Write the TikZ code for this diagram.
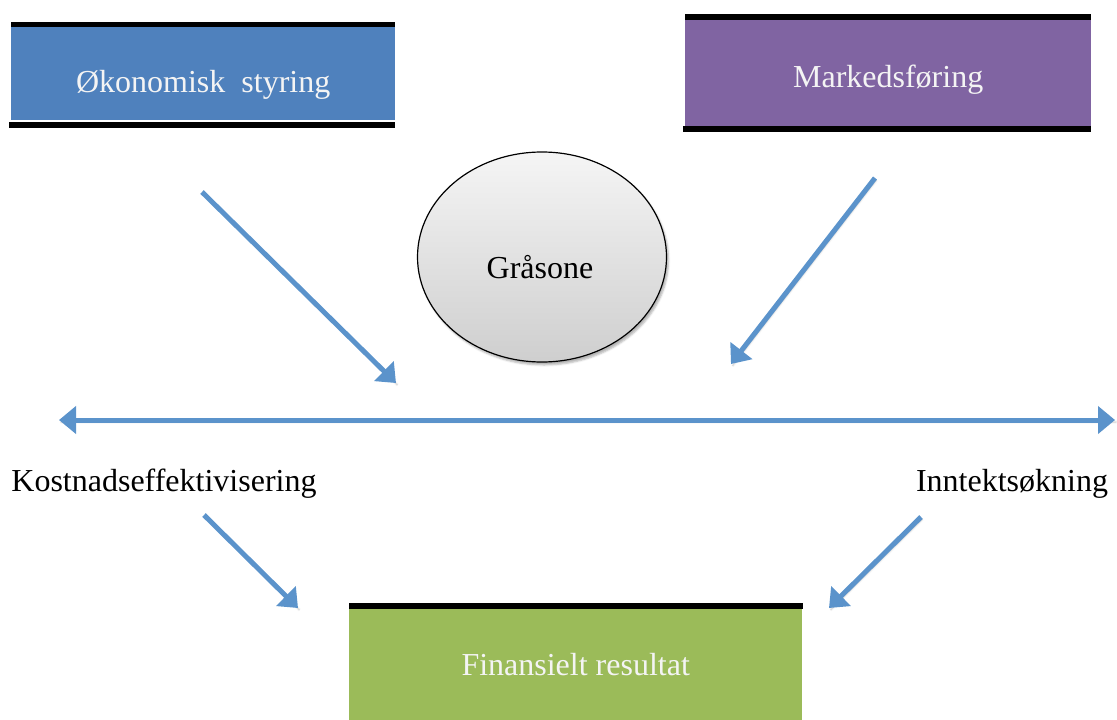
\documentclass[tikz,border=0pt]{standalone}
\usepackage{fontspec}
\setmainfont{Liberation Serif}
\usetikzlibrary{arrows.meta,shapes.geometric,shadows.blur}
\definecolor{boxblue}{HTML}{4F81BD}
\definecolor{boxpurple}{HTML}{8064A2}
\definecolor{boxgreen}{HTML}{9BBB59}
\definecolor{arrowblue}{HTML}{5B93CB}
\definecolor{boxtext}{HTML}{F4F4F4}
\tikzset{
  x=1pt, y=-1pt,
  every node/.style={font=\fontsize{32}{38}\selectfont, inner sep=0pt},
  topicbox/.style={fill=#1, text=boxtext, anchor=north west},
  bar/.style={fill=black},
  flow/.style={draw=arrowblue, line width=5pt,
    -{Triangle[length=17pt,width=27pt]},
    blur shadow={shadow xshift=1.5pt, shadow yshift=-2pt, shadow blur steps=4, shadow opacity=25}},
  twoway/.style={flow, {Triangle[length=17pt,width=27pt]}-{Triangle[length=17pt,width=27pt]}},
  zone/.style={ellipse, draw=black, line width=1.2pt, top color=gray!8, bottom color=gray!38,
    minimum width=249pt, minimum height=210pt,
    blur shadow={shadow xshift=2pt, shadow yshift=-3pt, shadow opacity=30}},
  label/.style={text=black}
}
\begin{document}
\begin{tikzpicture}
\useasboundingbox (0,0) rectangle (1117,720);

% Top-left box
\fill[bar] (11,22) rectangle (395,28);
\node[topicbox=boxblue, minimum width=384pt, minimum height=93pt] (oko) at (11,27) {};
\node at (oko.center) [text=boxtext, yshift=-11pt] (okotext) {Økonomisk\ \ styring};
\fill[bar] (9,122) rectangle (395,128);

% Top-right box
\fill[bar] (685,14) rectangle (1091,20);
\node[topicbox=boxpurple, minimum width=406pt, minimum height=106pt] (mark) at (685,20) {};
\node at (mark.center) [text=boxtext, yshift=-6pt] (marktext) {Markedsføring};
\fill[bar] (683,126) rectangle (1091,132);

% Bottom box
\fill[bar] (349,603) rectangle (803,609);
\node[topicbox=boxgreen, minimum width=453pt, minimum height=111pt] (fin) at (349,609) {};
\node at (fin.center) [text=boxtext, yshift=0pt] (fintext) {Finansielt resultat};

% Grey zone
\node[zone] (gra) at (542,257) {};
\node at (540,267) (gratext) {Gråsone};

% Side labels
\node[label] (kost) at (164,484) {Kostnadseffektivisering};
\node[label] (innt) at (1012,484) {Inntektsøkning};

% Arrow end points
\coordinate (a1s) at (202,192);
\coordinate (a1e) at (396,383);
\coordinate (a2s) at (875,178);
\coordinate (a2e) at (731,364);
\coordinate (hl) at (59,420);
\coordinate (hr) at (1115,420);
\coordinate (a3s) at (204,515);
\coordinate (a3e) at (298,608);
\coordinate (a4s) at (921,517);
\coordinate (a4e) at (829,608);

\draw[flow] (a1s) -- (a1e);
\draw[flow] (a2s) -- (a2e);
\draw[twoway] (hl) -- (hr);
\draw[flow] (a3s) -- (a3e);
\draw[flow] (a4s) -- (a4e);
\end{tikzpicture}
\end{document}
